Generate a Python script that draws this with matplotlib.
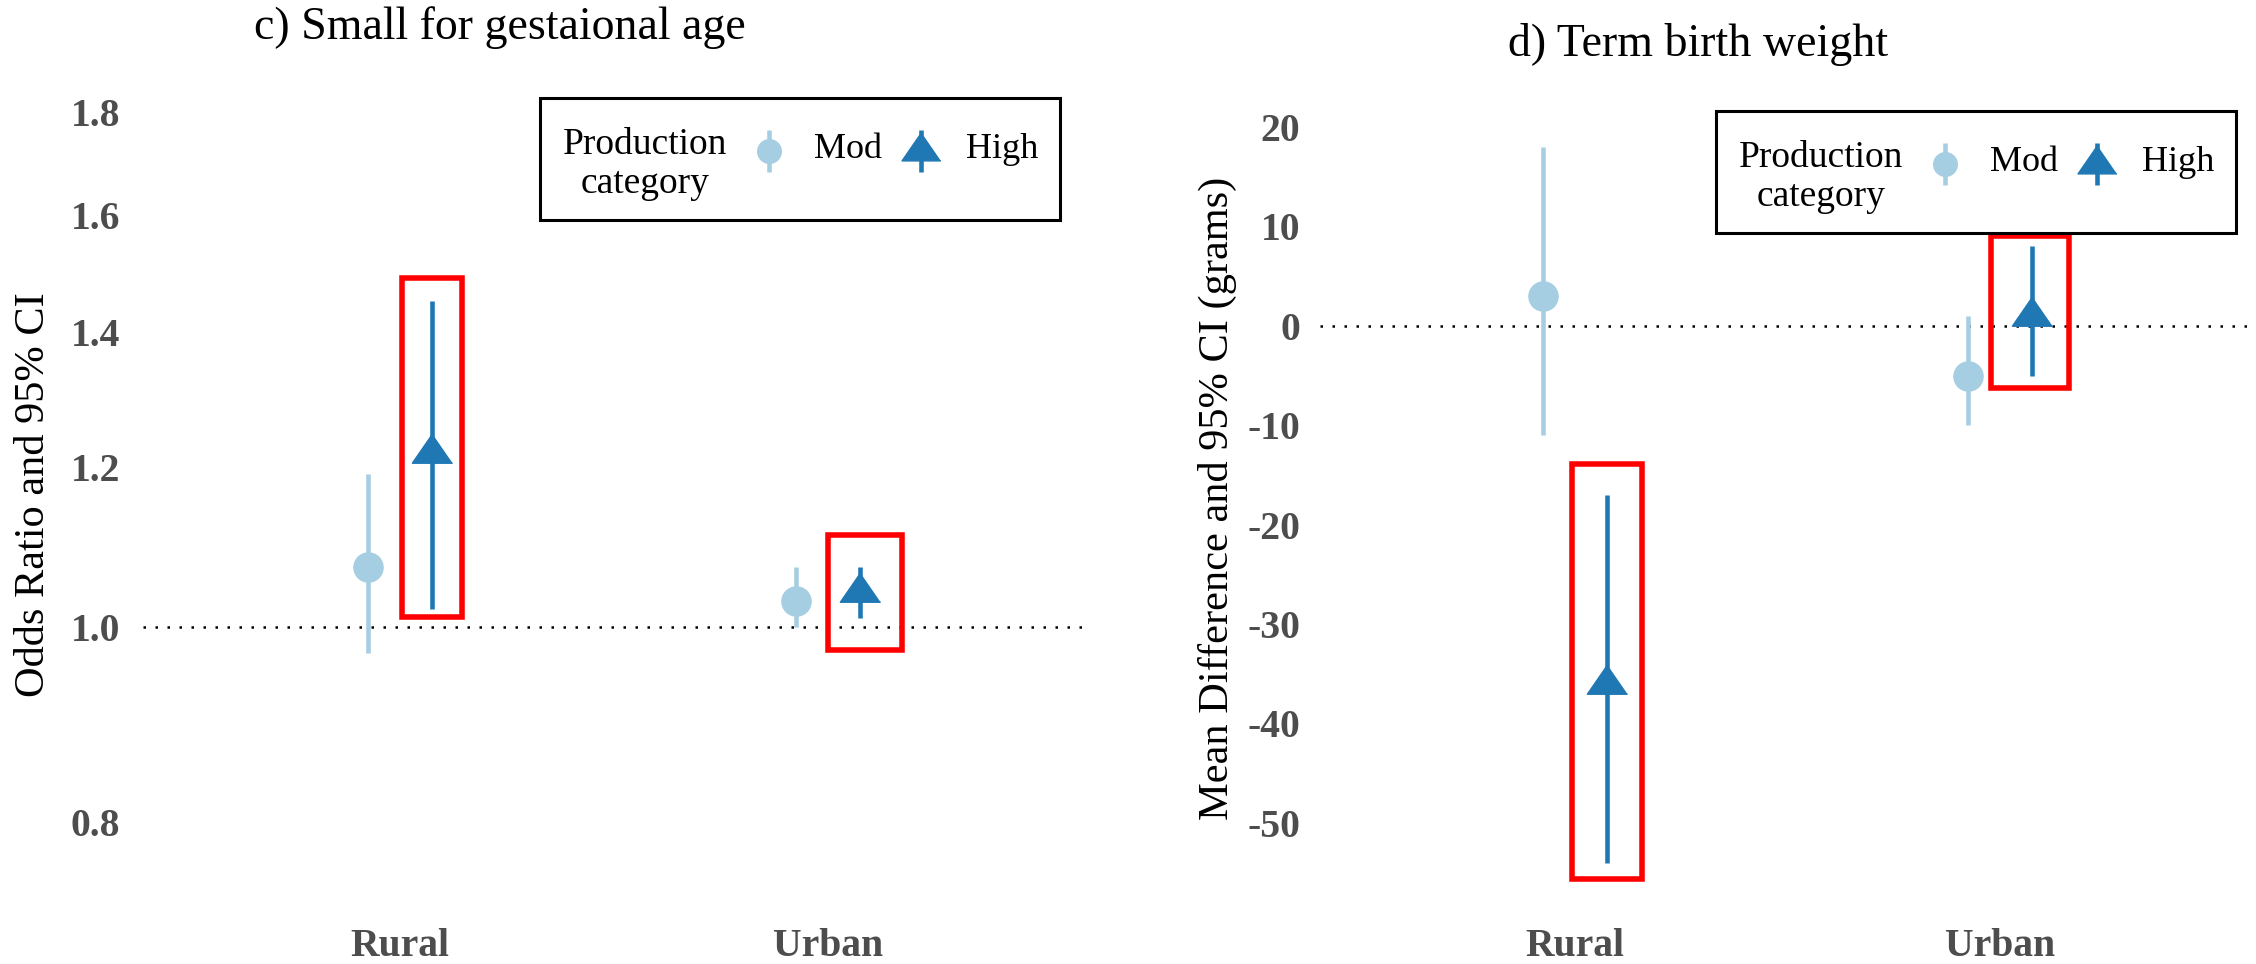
import numpy as np
import matplotlib
matplotlib.use('Agg')
import matplotlib.pyplot as plt
from matplotlib.lines import Line2D
from matplotlib.patches import Rectangle
from matplotlib.ticker import FixedLocator, NullLocator, FormatStrFormatter

plt.rcParams['font.family'] = 'Liberation Serif'
plt.rcParams['axes.unicode_minus'] = False

categories = ['Rural', 'Urban']

# c) small for gestational age: odds ratio and 95% CI
sga_mod_est = [1.07, 1.03]
sga_mod_lo = [0.97, 1.00]
sga_mod_hi = [1.19, 1.07]
sga_high_est = [1.22, 1.04]
sga_high_lo = [1.02, 1.01]
sga_high_hi = [1.45, 1.07]

# d) term birth weight: mean difference (g) and 95% CI
tbw_mod_est = [3, -5]
tbw_mod_lo = [-11, -10]
tbw_mod_hi = [18, 1]
tbw_high_est = [-36, 1]
tbw_high_lo = [-54, -5]
tbw_high_hi = [-17, 8]

MOD = '#A6CEE3'
HIGH = '#1F78B4'
TICK_GREY = '#4D4D4D'
DODGE = 0.075
# upward triangle with its centroid on the origin
TRI = [(0, 0.967), (-1, -0.483), (1, -0.483)]

W, H = 2256, 964
fig = plt.figure(figsize=(W / 100, H / 100), dpi=100)


def px_axes(left, top, right, bottom):
    return fig.add_axes([left / W, 1 - bottom / H, (right - left) / W, (bottom - top) / H])


def fx(x):
    return x / W


def fy(y):
    return 1 - y / H


def draw_panel(ax, mod_est, mod_lo, mod_hi, high_est, high_lo, high_hi, ref):
    x = np.arange(len(categories))
    ax.axhline(ref, color='black', lw=1.8, ls=(0, (1, 3.8)), zorder=1)
    ax.vlines(x - DODGE, mod_lo, mod_hi, color=MOD, lw=3.3, capstyle='butt', zorder=2)
    ax.plot(x - DODGE, mod_est, ls='none', marker='o', ms=21, color=MOD, zorder=3)
    ax.vlines(x + DODGE, high_lo, high_hi, color=HIGH, lw=3.3, capstyle='butt', zorder=2)
    ax.plot(x + DODGE, high_est, ls='none', marker=TRI, ms=29, color=HIGH, zorder=3)
    ax.set_xlim(-0.6, 1.6)
    ax.set_xticks(x, categories)
    for s in ax.spines.values():
        s.set_visible(False)
    ax.tick_params(length=0, labelsize=28.5, labelcolor=TICK_GREY)
    ax.tick_params(axis='x', pad=2)
    for lab in ax.get_xticklabels() + ax.get_yticklabels():
        lab.set_fontweight('bold')


def highlight(ax, cat, x0, x1, y0, y1):
    # red frame around one estimate; x0/x1 are offsets from the category position
    ax.add_patch(Rectangle((cat + x0, y0), x1 - x0, y1 - y0, fill=False,
                           ec='#FF0000', lw=4, zorder=5))


def draw_key(left, top):
    w, h = 520, 122
    fig.add_artist(Rectangle((fx(left), fy(top + h)), w / W, h / H, fill=False,
                             ec='black', lw=2.2, transform=fig.transFigure))
    fig.text(fx(left + 105), fy(top + 47), 'Production', ha='center', va='center', fontsize=27)
    fig.text(fx(left + 105), fy(top + 86), 'category', ha='center', va='center', fontsize=27)
    ky = top + 53
    for kx, colour, marker, ms, label in [(229, MOD, 'o', 17, 'Mod'), (381, HIGH, TRI, 28, 'High')]:
        fig.add_artist(Line2D([fx(left + kx)] * 2, [fy(ky - 21), fy(ky + 21)], color=colour,
                              lw=3.3, solid_capstyle='butt', transform=fig.transFigure))
        fig.add_artist(Line2D([fx(left + kx)], [fy(ky)], marker=marker, ms=ms, color=colour,
                              ls='none', transform=fig.transFigure))
        fig.text(fx(left + kx + 45), fy(ky - 2), label, ha='left', va='center', fontsize=26)


# left panel, log odds-ratio axis
ax1 = px_axes(143, 80, 1085, 925)
draw_panel(ax1, sga_mod_est, sga_mod_lo, sga_mod_hi, sga_high_est, sga_high_lo, sga_high_hi, 1.0)
ax1.set_yscale('log')
ax1.set_ylim(0.7113, 1.867)
ax1.yaxis.set_major_locator(FixedLocator([0.8, 1.0, 1.2, 1.4, 1.6, 1.8]))
ax1.yaxis.set_major_formatter(FormatStrFormatter('%.1f'))
ax1.yaxis.set_minor_locator(NullLocator())
ax1.tick_params(axis='y', pad=16.6)
for lab in ax1.get_yticklabels():
    lab.set_fontweight('bold')
highlight(ax1, 0, 0.005, 0.145, 1.011, 1.49)
highlight(ax1, 1, 0.0, 0.173, 0.974, 1.111)

# right panel, mean difference in grams
ax2 = px_axes(1320, 80, 2255, 925)
draw_panel(ax2, tbw_mod_est, tbw_mod_lo, tbw_mod_hi, tbw_high_est, tbw_high_lo, tbw_high_hi, 0)
ax2.set_ylim(-60.28, 24.73)
ax2.set_yticks(np.arange(-50, 21, 10))
ax2.tick_params(axis='y', pad=14.4)
for lab in ax2.get_yticklabels():
    lab.set_fontweight('bold')
highlight(ax2, 0, -0.007, 0.158, -55.7, -13.9)
highlight(ax2, 1, -0.021, 0.162, -6.3, 9.0)

fig.text(fx(500), fy(28), 'c) Small for gestaional age', ha='center', va='center', fontsize=33)
fig.text(fx(1698), fy(44), 'd) Term birth weight', ha='center', va='center', fontsize=33)
fig.text(fx(34), fy(495), 'Odds Ratio and 95% CI', rotation=90, ha='center', va='center', fontsize=30.5)
fig.text(fx(1217), fy(498), 'Mean Difference and 95% CI (grams)', rotation=90,
         ha='center', va='center', fontsize=30.5)

draw_key(540, 98)
draw_key(1716, 111)

fig.savefig('out.png', dpi=100)
